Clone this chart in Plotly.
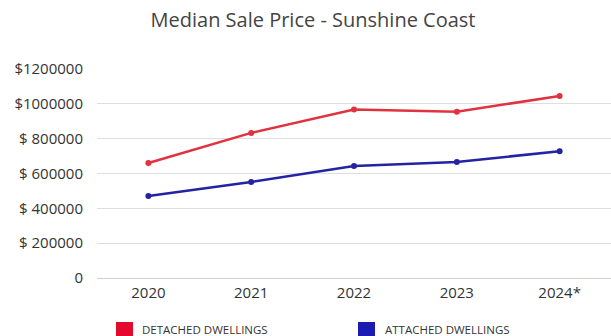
import plotly.graph_objects as go

years = ["2020", "2021", "2022", "2023", "2024*"]
detached = [660000, 833000, 967000, 955000, 1045000]
attached = [471000, 551000, 643000, 666000, 728000]
ytick_vals = [0, 200000, 400000, 600000, 800000, 1000000, 1200000]
ytick_text = ["0", "$ 200000", "$ 400000", "$ 600000", "$ 800000", "$1000000", "$1200000"]
legend_names = ["DETACHED DWELLINGS", "ATTACHED DWELLINGS"]

red = "#e0323f"
blue = "#2323a3"
legend_colors = ["#e4082c", "#1c1cb0"]

W, H = 611, 336
L, R, T = 97, 0, 69
B = H - 278
pw, ph = W - L - R, H - T - B


def px_x(px):  # window pixel -> paper x
    return (px - L) / pw


def px_y(py):  # window pixel -> paper y
    return (H - B - py) / ph


fig = go.Figure()
fig.add_trace(go.Scatter(x=years, y=detached, mode="lines+markers", showlegend=False,
                         name=legend_names[0],
                         line=dict(color=red, width=2.5), marker=dict(size=6, color=red)))
fig.add_trace(go.Scatter(x=years, y=attached, mode="lines+markers", showlegend=False,
                         name=legend_names[1],
                         line=dict(color=blue, width=2.5), marker=dict(size=6, color=blue)))

# custom legend: squares + labels below the chart
legend_pos = [(116, 140), (358, 383)]
for (sq_x, tx_x), name, col in zip(legend_pos, legend_names, legend_colors):
    fig.add_shape(type="rect", xref="paper", yref="paper",
                  x0=px_x(sq_x), x1=px_x(sq_x + 17), y0=px_y(322), y1=px_y(340),
                  fillcolor=col, line=dict(width=0))
    fig.add_annotation(text=name, xref="paper", yref="paper", x=px_x(tx_x), y=px_y(329.5),
                       xanchor="left", yanchor="middle", showarrow=False,
                       font=dict(size=11.5, color="#333", family="Open Sans, sans-serif"))

fig.update_layout(
    width=W, height=H,
    margin=dict(l=L, r=R, t=T, b=B, autoexpand=False),
    paper_bgcolor="white", plot_bgcolor="white",
    showlegend=False,
    font=dict(family="Open Sans, sans-serif", color="#333"),
    title=dict(text="Median Sale Price - Sunshine Coast", x=px_x(313), xanchor="center",
               xref="paper", y=1 - 20 / H, yanchor="middle",
               font=dict(size=20, color="#444", family="Open Sans, sans-serif")),
    xaxis=dict(showgrid=False, tickfont=dict(size=15, color="#333"), ticks="",
               range=[-0.5, 4.5], showline=False, ticklabelstandoff=4),
    yaxis=dict(range=[0, 1200000], tickvals=ytick_vals, ticktext=ytick_text,
               showgrid=True, gridcolor="#dedede", gridwidth=1,
               zeroline=True, zerolinecolor="#cfcfcf", zerolinewidth=1,
               tickfont=dict(size=15, color="#333"), ticks="", ticklabelstandoff=13),
)

fig.write_html("out.html", config={"displayModeBar": False},
               post_script="document.body.style.margin='0';document.body.style.overflow='hidden';")
